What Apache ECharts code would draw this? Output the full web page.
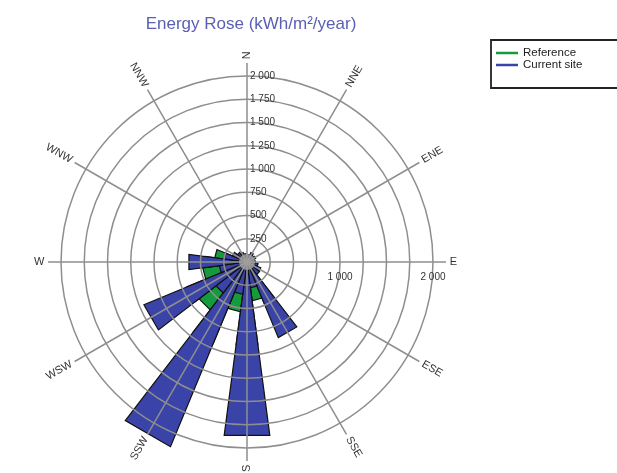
<!DOCTYPE html>
<html>
<head>
<meta charset="utf-8">
<script src="https://cdn.jsdelivr.net/npm/echarts@6/dist/echarts.min.js"></script>
<style>
  html, body { margin: 0; padding: 0; background: #fff; }
  #chart { width: 617px; height: 473px; }
</style>
</head>
<body>
<div id="chart"></div>
<script>
// compass labels on the 12 spokes (every 30 deg, clockwise from N)
const directions = ['N', 'NNE', 'ENE', 'E', 'ESE', 'SSE', 'S', 'SSW', 'WSW', 'W', 'WNW', 'NNW']
// 15 deg bins
const binAngles = [0, 15, 30, 45, 60, 75, 90, 105, 120, 135, 150, 165,
                   180, 195, 210, 225, 240, 255, 270, 285, 300, 315, 330, 345]
const currentSite = [70, 80, 110, 90, 100, 80, 90, 120, 160, 170, 880, 280,
                     1880, 350, 2150, 420, 1200, 300, 630, 250, 170, 130, 110, 90]
const reference = [50, 60, 80, 70, 70, 60, 70, 90, 120, 130, 500, 420,
                   900, 540, 950, 650, 700, 480, 450, 350, 140, 100, 80, 60]
const radiusMax = 2000
const spokeMax = 2140

const CX = 247, CY = 262, R = 186
const halfBin = 7.5
const GRID = '#8e8e8e'
const TXT = '#333'

function fmtNum(v) {
  if (v === 0) return ''
  if (v >= 1000) return Math.floor(v / 1000) + ' ' + String(v % 1000).padStart(3, '0')
  return String(v)
}

function wedge(params, api) {
  const a = api.value(0), v = api.value(1)
  const p0 = api.coord([0, a])
  const p1 = api.coord([v, a - halfBin])
  const p2 = api.coord([v, a + halfBin])
  return {
    type: 'polygon',
    shape: { points: [p0, p1, p2] },
    style: { fill: api.visual('color'), stroke: '#111', lineWidth: 1.2 },
  }
}

// compass names at the end of each spoke, turned along the spoke and kept upright
function spokeLabel(params, api) {
  const a = api.value(0)
  const p = api.coord([api.value(1), a])
  let rot = 90 - a
  let align = 'left'
  if (rot > 90) { rot -= 180; align = 'right' }
  if (rot <= -90) { rot += 180; align = 'right' }
  if (a === 180) align = 'right'
  return {
    type: 'text',
    x: p[0], y: p[1],
    rotation: rot * Math.PI / 180,
    style: {
      text: directions[params.dataIndex],
      fill: TXT, fontSize: 11, fontFamily: 'Liberation Sans, Arial, sans-serif',
      align: align, verticalAlign: 'middle',
    },
  }
}

const chart = echarts.init(document.getElementById('chart'))
chart.setOption({
  animation: false,
  textStyle: { fontFamily: 'Liberation Sans, Arial, sans-serif' },
  title: {
    text: 'Energy Rose (kWh/m²/year)',
    left: 246, top: 11, textAlign: 'center',
    textStyle: { fontSize: 17, fontWeight: 'normal', color: '#5a5fb3' },
  },
  legend: {
    orient: 'vertical',
    left: 491, top: 40,
    data: ['Reference', 'Current site'],
    icon: 'rect', itemWidth: 22, itemHeight: 2.5, itemGap: 0,
    padding: [7, 40, 17, 5],
    borderColor: '#222', borderWidth: 1.8,
    textStyle: { fontSize: 11.5, color: '#222' },
  },
  polar: [
    { center: [CX, CY], radius: R },
    { center: [CX, CY], radius: R * spokeMax / radiusMax },
  ],
  angleAxis: [
    { polarIndex: 0, type: 'value', min: 0, max: 360, startAngle: 90, clockwise: true, show: false },
    {
      polarIndex: 1, type: 'category', startAngle: 0, clockwise: true, boundaryGap: false,
      data: directions.slice(3).concat(directions.slice(0, 3)),
      z: 5,
      axisLine: { show: false },
      axisTick: { show: false },
      splitLine: { show: true, lineStyle: { color: GRID, width: 1.5 } },
      axisLabel: { show: false },
    },
  ],
  radiusAxis: [
    {
      polarIndex: 0, type: 'value', min: 0, max: radiusMax, interval: 250,
      z: 5,
      axisLine: { show: false },
      axisTick: { show: false },
      splitLine: { show: true, lineStyle: { color: GRID, width: 1.5 } },
      axisLabel: { show: true, align: 'left', margin: -3, fontSize: 10, color: TXT, formatter: fmtNum },
    },
    {
      polarIndex: 1, type: 'value', min: 0, max: spokeMax, interval: 1000,
      z: 5,
      axisLine: { show: false },
      axisTick: { show: false },
      splitLine: { show: false },
      axisLabel: {
        show: true, fontSize: 10, color: TXT, margin: -20,
        formatter: v => (v === 1000 || v === 2000) ? fmtNum(v) : '',
      },
    },
  ],
  series: [
    {
      name: 'Reference', type: 'custom', coordinateSystem: 'polar', polarIndex: 0, z: 1,
      itemStyle: { color: '#159a3c' },
      encode: { angle: 0, radius: 1 },
      renderItem: wedge,
      data: binAngles.map((a, i) => [a, reference[i]]),
    },
    {
      name: 'Current site', type: 'custom', coordinateSystem: 'polar', polarIndex: 0, z: 2,
      itemStyle: { color: '#3a44a8' },
      encode: { angle: 0, radius: 1 },
      renderItem: wedge,
      data: binAngles.map((a, i) => [a, currentSite[i]]),
    },
    {
      type: 'scatter', coordinateSystem: 'polar', polarIndex: 0, z: 10,
      symbolSize: 16, itemStyle: { color: '#a3a3a3' }, silent: true,
      data: [[0, 0]],
    },
    {
      type: 'custom', coordinateSystem: 'polar', polarIndex: 0, z: 10, silent: true,
      encode: { angle: 0, radius: 1 },
      renderItem: spokeLabel,
      data: directions.map((d, i) => [i * 30, spokeMax + 40]),
    },
  ],
})
</script>
</body>
</html>
